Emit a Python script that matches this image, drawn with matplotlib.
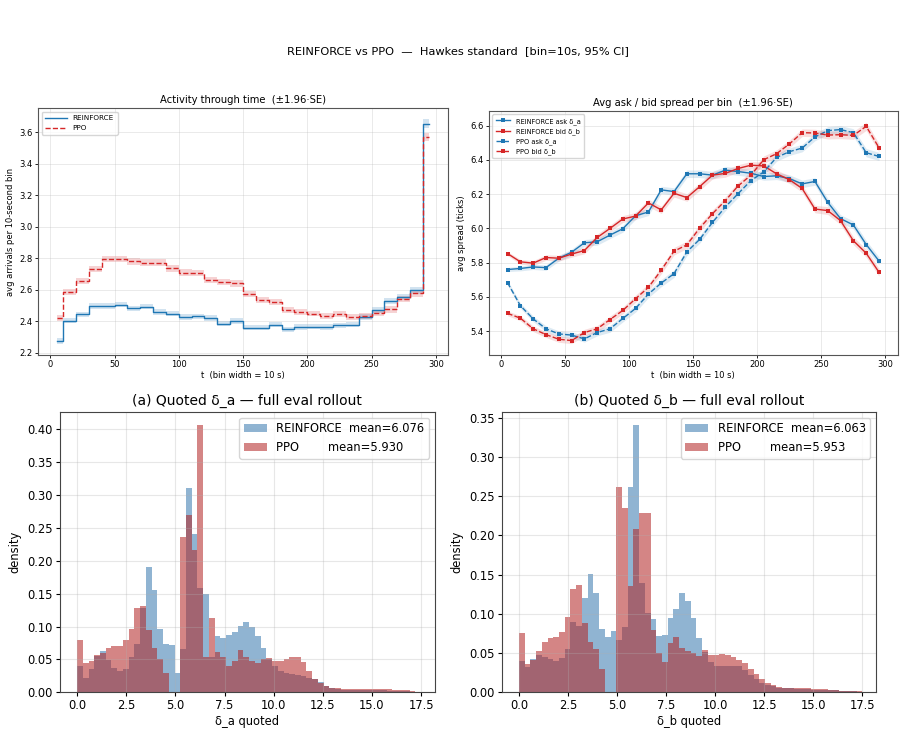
import numpy as np
import matplotlib
matplotlib.use("Agg")
import matplotlib.pyplot as plt

# ---------------- data ----------------
t_bins = [5, 15, 25, 35, 45, 55, 65, 75, 85, 95, 105, 115, 125, 135, 145,
          155, 165, 175, 185, 195, 205, 215, 225, 235, 245, 255, 265, 275, 285, 295]

rf_arrivals = [2.275, 2.403, 2.442, 2.495, 2.495, 2.504, 2.480, 2.491, 2.457, 2.448,
               2.425, 2.431, 2.420, 2.384, 2.400, 2.358, 2.358, 2.378, 2.348, 2.363,
               2.365, 2.363, 2.373, 2.378, 2.425, 2.470, 2.525, 2.555, 2.595, 3.655]
ppo_arrivals = [2.420, 2.583, 2.656, 2.731, 2.795, 2.795, 2.780, 2.772, 2.772, 2.735,
                2.707, 2.705, 2.663, 2.650, 2.639, 2.573, 2.534, 2.521, 2.472, 2.459,
                2.448, 2.431, 2.444, 2.427, 2.431, 2.453, 2.474, 2.538, 2.577, 3.570]
rf_arr_ci = [0.018, 0.017, 0.017, 0.017, 0.017, 0.017, 0.017, 0.017, 0.017, 0.017,
             0.017, 0.017, 0.017, 0.017, 0.017, 0.017, 0.017, 0.017, 0.017, 0.017,
             0.017, 0.017, 0.017, 0.017, 0.018, 0.018, 0.019, 0.019, 0.020, 0.027]
ppo_arr_ci = [0.021, 0.020, 0.020, 0.020, 0.021, 0.021, 0.021, 0.021, 0.021, 0.021,
              0.021, 0.021, 0.020, 0.020, 0.020, 0.020, 0.020, 0.020, 0.020, 0.020,
              0.019, 0.019, 0.019, 0.019, 0.019, 0.019, 0.020, 0.020, 0.021, 0.028]

rf_ask = [5.760, 5.766, 5.775, 5.771, 5.826, 5.861, 5.916, 5.922, 5.961, 5.998,
          6.074, 6.096, 6.225, 6.215, 6.319, 6.319, 6.311, 6.340, 6.332, 6.322,
          6.303, 6.307, 6.291, 6.260, 6.274, 6.152, 6.057, 6.020, 5.906, 5.810]
rf_bid = [5.853, 5.805, 5.797, 5.830, 5.826, 5.850, 5.871, 5.947, 6.000, 6.055,
          6.072, 6.149, 6.108, 6.205, 6.180, 6.244, 6.311, 6.321, 6.350, 6.369,
          6.365, 6.319, 6.285, 6.233, 6.113, 6.104, 6.045, 5.928, 5.855, 5.744]
ppo_ask = [5.683, 5.549, 5.472, 5.414, 5.384, 5.377, 5.355, 5.392, 5.414, 5.474,
           5.533, 5.617, 5.681, 5.736, 5.863, 5.936, 6.035, 6.125, 6.203, 6.279,
           6.330, 6.414, 6.448, 6.469, 6.534, 6.571, 6.577, 6.559, 6.442, 6.420]
ppo_bid = [5.504, 5.476, 5.414, 5.380, 5.353, 5.345, 5.392, 5.414, 5.468, 5.521,
           5.590, 5.656, 5.756, 5.867, 5.904, 6.002, 6.086, 6.162, 6.248, 6.311,
           6.401, 6.436, 6.493, 6.559, 6.557, 6.545, 6.547, 6.543, 6.596, 6.471]
rf_ask_ci = [0.012, 0.014, 0.015, 0.016, 0.017, 0.018, 0.019, 0.020, 0.020, 0.020,
             0.021, 0.021, 0.021, 0.022, 0.022, 0.022, 0.022, 0.022, 0.022, 0.022,
             0.022, 0.022, 0.022, 0.022, 0.022, 0.023, 0.023, 0.023, 0.023, 0.023]
rf_bid_ci = [0.012, 0.014, 0.015, 0.016, 0.017, 0.018, 0.019, 0.020, 0.020, 0.020,
             0.021, 0.021, 0.021, 0.022, 0.022, 0.022, 0.022, 0.022, 0.022, 0.022,
             0.022, 0.022, 0.022, 0.022, 0.022, 0.023, 0.023, 0.023, 0.023, 0.023]
ppo_ask_ci = [0.014, 0.015, 0.016, 0.017, 0.018, 0.018, 0.019, 0.019, 0.020, 0.020,
              0.021, 0.021, 0.021, 0.022, 0.022, 0.022, 0.022, 0.022, 0.022, 0.022,
              0.022, 0.022, 0.022, 0.022, 0.022, 0.023, 0.023, 0.023, 0.024, 0.024]
ppo_bid_ci = [0.014, 0.015, 0.016, 0.017, 0.018, 0.018, 0.019, 0.019, 0.020, 0.020,
              0.021, 0.021, 0.021, 0.022, 0.022, 0.022, 0.022, 0.022, 0.022, 0.022,
              0.022, 0.022, 0.022, 0.022, 0.022, 0.023, 0.023, 0.023, 0.024, 0.024]

# histogram densities on 60 common bins spanning 0 .. 17.5
hist_lo, hist_hi, hist_nbins = 0.0, 17.5, 60
rf_da_density = [0.040, 0.022, 0.036, 0.055, 0.063, 0.049, 0.037, 0.033, 0.036, 0.054,
                 0.073, 0.128, 0.190, 0.155, 0.097, 0.074, 0.072, 0.030, 0.066, 0.311,
                 0.240, 0.159, 0.149, 0.053, 0.086, 0.082, 0.087, 0.091, 0.101, 0.107,
                 0.100, 0.085, 0.067, 0.050, 0.040, 0.032, 0.029, 0.028, 0.027, 0.025,
                 0.021, 0.020, 0.015, 0.010, 0.007, 0.005, 0.004, 0.004, 0.004, 0.003,
                 0.003, 0.003, 0.003, 0.003, 0.002, 0.002, 0.002, 0.002, 0.001, 0.001]
ppo_da_density = [0.079, 0.044, 0.048, 0.057, 0.060, 0.067, 0.070, 0.070, 0.079, 0.096,
                  0.128, 0.131, 0.094, 0.068, 0.050, 0.029, 0.000, 0.000, 0.236, 0.270,
                  0.217, 0.406, 0.054, 0.113, 0.062, 0.054, 0.040, 0.047, 0.064, 0.054,
                  0.047, 0.045, 0.051, 0.052, 0.048, 0.048, 0.050, 0.053, 0.053, 0.046,
                  0.032, 0.020, 0.014, 0.010, 0.007, 0.006, 0.0055, 0.0055, 0.0055, 0.0055,
                  0.0055, 0.0045, 0.0045, 0.0045, 0.0045, 0.0035, 0.0035, 0.0035, 0.0025, 0.001]
rf_db_density = [0.040, 0.032, 0.043, 0.047, 0.045, 0.042, 0.040, 0.044, 0.055, 0.090,
                 0.085, 0.120, 0.151, 0.127, 0.081, 0.071, 0.078, 0.066, 0.083, 0.261,
                 0.340, 0.139, 0.101, 0.093, 0.072, 0.073, 0.095, 0.106, 0.127, 0.116,
                 0.094, 0.069, 0.051, 0.038, 0.034, 0.033, 0.033, 0.034, 0.033, 0.028,
                 0.022, 0.0165, 0.012, 0.0095, 0.008, 0.006, 0.005, 0.005, 0.0045, 0.0045,
                 0.0045, 0.0035, 0.0035, 0.0035, 0.0025, 0.0025, 0.0015, 0.0015, 0.0015, 0.0005]
ppo_db_density = [0.076, 0.036, 0.041, 0.053, 0.064, 0.069, 0.070, 0.077, 0.096, 0.131,
                  0.137, 0.088, 0.064, 0.055, 0.030, 0.000, 0.000, 0.261, 0.235, 0.135,
                  0.208, 0.228, 0.228, 0.079, 0.050, 0.039, 0.063, 0.070, 0.056, 0.052,
                  0.050, 0.046, 0.054, 0.047, 0.047, 0.049, 0.047, 0.045, 0.041, 0.037,
                  0.030, 0.023, 0.0165, 0.0115, 0.009, 0.0064, 0.0055, 0.0055, 0.005, 0.005,
                  0.005, 0.0042, 0.0042, 0.0042, 0.003, 0.003, 0.002, 0.002, 0.002, 0.001]
means_da = {"REINFORCE": 6.076, "PPO": 5.930}
means_db = {"REINFORCE": 6.063, "PPO": 5.953}

# ---------------- figure ----------------
fig = plt.figure(figsize=(9.06, 7.36), dpi=100)
fig.suptitle("REINFORCE vs PPO  —  Hawkes standard  [bin=10s, 95% CI]",
             fontsize=8.2, x=0.505, y=0.938)

C_BLUE = "#1f77b4"
C_RED = "#d62728"
small_tick = 6
small_lab = 6

t = np.array(t_bins)

# --- top-left: activity ---
ax1 = fig.add_axes([0.042, 0.518, 0.4525, 0.335])
for vals, ci, col, ls, lab in [(rf_arrivals, rf_arr_ci, C_BLUE, "-", "REINFORCE"),
                               (ppo_arrivals, ppo_arr_ci, C_RED, "--", "PPO")]:
    v = np.array(vals); c = np.array(ci)
    ax1.plot(t, v, drawstyle="steps-mid", color=col, ls=ls, lw=1.0, label=lab)
    ax1.fill_between(t, v - c, v + c, step="mid", color=col, alpha=0.2, lw=0)
ax1.set_title("Activity through time  (±1.96·SE)", fontsize=7.2, pad=4)
ax1.set_xlabel("t  (bin width = 10 s)", fontsize=small_lab, labelpad=1)
ax1.set_ylabel("avg arrivals per 10-second bin", fontsize=small_lab, labelpad=3)
ax1.tick_params(labelsize=small_tick, length=2.5, width=0.6, pad=1.5)
ax1.grid(True, alpha=0.3, lw=0.6)
ax1.legend(loc="upper left", fontsize=5.2, handlelength=3, borderpad=0.5)
for s in ax1.spines.values():
    s.set_linewidth(0.8); s.set_color("#555555")

# --- top-right: spreads ---
ax2 = fig.add_axes([0.5397, 0.518, 0.451, 0.331])
for vals, ci, col, ls, lab in [(rf_ask, rf_ask_ci, C_BLUE, "-", "REINFORCE ask δ_a"),
                               (rf_bid, rf_bid_ci, C_RED, "-", "REINFORCE bid δ_b"),
                               (ppo_ask, ppo_ask_ci, C_BLUE, "--", "PPO ask δ_a"),
                               (ppo_bid, ppo_bid_ci, C_RED, "--", "PPO bid δ_b")]:
    v = np.array(vals); c = np.array(ci)
    ax2.plot(t, v, color=col, ls=ls, lw=1.0, marker="s", ms=2.4, mew=0, label=lab)
    ax2.fill_between(t, v - c, v + c, color=col, alpha=0.15, lw=0)
ax2.set_title("Avg ask / bid spread per bin  (±1.96·SE)", fontsize=7.2, pad=4)
ax2.set_xlabel("t  (bin width = 10 s)", fontsize=small_lab, labelpad=1)
ax2.set_ylabel("avg spread (ticks)", fontsize=small_lab, labelpad=3)
ax2.tick_params(labelsize=small_tick, length=2.5, width=0.6, pad=1.5)
ax2.grid(True, alpha=0.3, lw=0.6)
ax2.legend(loc="upper left", fontsize=4.8, handlelength=2.2, borderpad=0.5)
for s in ax2.spines.values():
    s.set_linewidth(0.8); s.set_color("#555555")

# --- bottom histograms ---
edges = np.linspace(hist_lo, hist_hi, hist_nbins + 1)
centers = 0.5 * (edges[:-1] + edges[1:])


def hist_panel(ax, rf, ppo, means, title, xlabel):
    ax.hist(centers, bins=edges, weights=rf, color="steelblue", alpha=0.6,
            label=f"{'REINFORCE':<10s} mean={means['REINFORCE']:.3f}")
    ax.hist(centers, bins=edges, weights=ppo, color="firebrick", alpha=0.55,
            label=f"{'PPO':<10s} mean={means['PPO']:.3f}")
    ax.set_title(title, fontsize=10, pad=5)
    ax.set_xlabel(xlabel, fontsize=8.3, labelpad=2)
    ax.set_ylabel("density", fontsize=8.3)
    ax.tick_params(labelsize=8.3, length=3, pad=2)
    ax.grid(True, alpha=0.3)
    ax.set_xlim(-0.87, 18.2)
    ax.legend(loc="upper right", fontsize=8.3)
    for s in ax.spines.values():
        s.set_color("#444444")


ax3 = fig.add_axes([0.0662, 0.0594, 0.4138, 0.3808])
hist_panel(ax3, rf_da_density, ppo_da_density, means_da,
           "(a) Quoted δ_a — full eval rollout", "δ_a quoted")
ax4 = fig.add_axes([0.554, 0.0594, 0.4129, 0.3808])
hist_panel(ax4, rf_db_density, ppo_db_density, means_db,
           "(b) Quoted δ_b — full eval rollout", "δ_b quoted")

fig.savefig("out.png", dpi=100)
